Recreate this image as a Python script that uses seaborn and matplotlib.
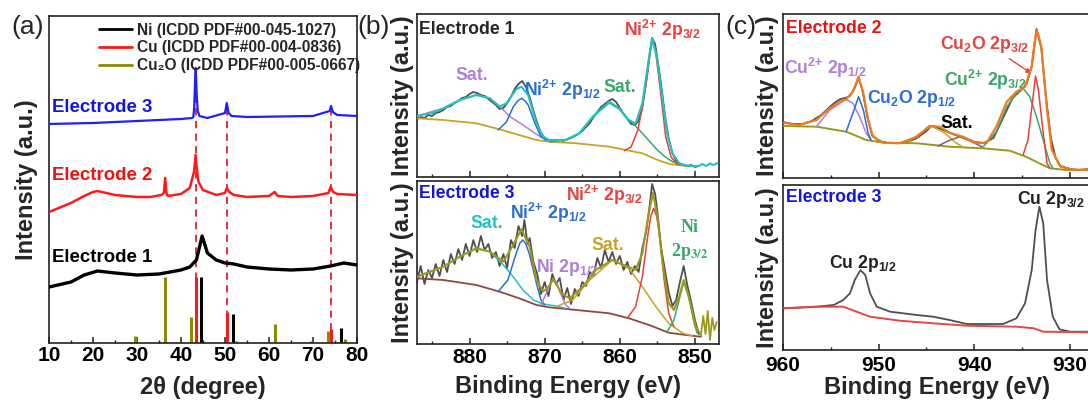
import matplotlib
matplotlib.use("Agg")
import matplotlib.pyplot as plt
import seaborn as sns
from matplotlib.lines import Line2D
from matplotlib.ticker import MultipleLocator

# ============================================================
# (a) XRD patterns
# ============================================================
xrd_e1_x = [10, 15, 18, 21, 25, 30, 35, 40, 42, 43.5, 44.8, 46, 48, 50, 52, 55, 60, 65, 70, 74, 77, 80]
xrd_e1_y = [56, 61, 68, 72, 70, 68, 69, 73, 76, 83, 107, 90, 83, 80, 79, 76, 74, 73, 74, 77, 80, 78]

xrd_e2_x = [10, 15, 18, 20, 21, 25, 30, 33, 35.5, 36.1, 36.4, 36.7, 37, 40, 42, 43.0, 43.3, 43.7, 44, 45,
            48, 50, 50.4, 51, 52, 55, 60, 61.3, 62, 65, 70, 73.5, 74, 74.6, 75.5, 80]
xrd_e2_y = [131, 140, 147, 151, 152, 148, 146, 146, 148, 150, 165, 150, 147, 149, 155, 172, 188, 170, 161, 153,
            148, 150, 155, 151, 148, 146, 147, 151, 147, 146, 147, 150, 156, 151, 149, 148]

xrd_e3_x = [10, 20, 30, 40, 42.5, 42.8, 43.0, 43.2, 43.35, 43.55, 43.8, 44.2, 46, 50.0, 50.4, 50.8, 51.5,
            55, 70, 73.8, 74.1, 74.5, 75.5, 80]
xrd_e3_y = [219, 220, 222, 224, 225, 226, 235, 262, 275, 250, 232, 227, 225, 230, 240, 230, 227,
            226, 227, 232, 237, 231, 228, 227]

dash_x = [43.3, 50.4, 74.1]
dash_top = [270, 240, 237]

ref_ni_x = [44.5, 51.8, 76.4]
ref_ni_h = [66, 29, 15]
ref_cu_x = [43.3, 50.4, 74.1]
ref_cu_h = [66, 31, 14]
ref_cu2o_x = [29.6, 36.4, 42.3, 52.4, 61.4, 69.6, 73.5, 77.3]
ref_cu2o_h = [7, 66, 26, 2, 19, 2, 12, 4]

ref_labels = ['Ni (ICDD PDF#00-045-1027)', 'Cu (ICDD PDF#00-004-0836)', 'Cu₂O (ICDD PDF#00-005-0667)']

# ============================================================
# (b) Ni 2p XPS, Electrode 1
# ============================================================
bt_raw_x = [887, 886.5, 886, 885.5, 885, 884.5, 884, 883.5, 883, 882.5, 882, 881.5, 881, 880.5, 880,
            879.5, 879, 878.5, 878, 877.5, 877, 876.5, 876, 875.5, 875, 874.5, 874, 873.5, 873, 872.5,
            872, 871.5, 871, 870.5, 870, 869.5, 869, 868.5, 868, 867.5, 867, 866.5, 866, 865.5, 865,
            864.5, 864, 863.5, 863, 862.5, 862, 861.5, 861, 860.5, 860, 859.5, 859, 858.5, 858, 857.5,
            857, 856.5, 856, 855.7, 855.3, 855, 854.5, 854, 853.5, 853, 852.5, 852, 851.5, 851, 850.5,
            850, 849.5]
bt_raw_y = [58, 60, 59, 62, 61, 64, 65, 67, 70, 71, 74, 76, 79, 80, 83,
            85, 84, 82, 81, 78, 75, 72, 68, 69, 74, 80, 88, 93, 96, 90,
            80, 66, 54, 44, 39, 36, 35, 36, 37, 36, 38, 39, 41, 43, 46,
            50, 54, 60, 65, 70, 73, 76, 78, 75, 69, 63, 58, 53, 52, 56,
            70, 95, 125, 139, 133, 118, 92, 62, 38, 24, 16, 13, 12, 11, 12,
            10, 11]
bt_env_x = [887, 885, 883.5, 881.3, 879.1, 877.3, 876.0, 875.1, 873.8, 873.1, 872.2, 871.1, 870.2, 869.4,
            867.2, 865.4, 863.6, 861.4, 860.1, 858.8, 857.9, 857.0, 856.3, 855.7, 855.0, 854.3, 853.7,
            853.0, 852.1, 850.8, 849.5, 849, 848.5, 848, 847.5, 847]
bt_env_y = [61, 64, 68.7, 77, 82, 78.7, 70.3, 73.7, 87.7, 90.3, 82, 53.7, 40.3, 37,
            37, 43.7, 60.3, 75.3, 68.7, 57, 53.7, 73.7, 110.3, 139, 117, 77, 43.7,
            23.7, 13.7, 11, 11, 13, 11, 13.5, 12, 14]
bt_bg_x = [887, 883.5, 879.1, 876.0, 873.4, 871.1, 869.4, 865.8, 861.4, 859.2, 857.0, 855.2, 853.4, 851.2, 850.5]
bt_bg_y = [58.7, 57, 53.7, 47.7, 42, 37, 35.3, 33.7, 30.3, 27, 23.7, 17.7, 13, 11, 10.8]
bt_sat1_x = [887, 883.5, 881.3, 879.1, 877.3, 876.0, 874.6, 872.9, 871.1, 869.8, 869.2]
bt_sat1_y = [61, 68.7, 77, 82, 78.7, 70.5, 60.3, 52, 42.7, 37, 35.4]
bt_p12_x = [876.2, 875.1, 874.2, 873.6, 873.1, 872.6, 872.2, 871.3, 870.5, 869.8]
bt_p12_y = [47, 55, 70, 76, 78.7, 76, 72, 53.7, 40.3, 37]
bt_sat2_x = [869.4, 867.2, 865.4, 863.6, 861.4, 860.1, 858.8, 857.9, 857.0, 856.0, 855.0, 854.0, 853.0, 851.6, 851.0]
bt_sat2_y = [35.5, 37, 43.7, 60.3, 74, 68, 57, 51, 43.7, 35.3, 27, 20.3, 15.3, 12, 11.2]
bt_p32_x = [859.4, 858.5, 857.6, 857.0, 856.3, 855.9, 855.6, 855.2, 854.5, 853.9, 853.2, 852.5, 852.0]
bt_p32_y = [26.3, 30, 47, 70, 103.7, 128, 137, 123.7, 80, 40.3, 20.3, 13.7, 12]

# ============================================================
# (b) Ni 2p XPS, Electrode 3
# ============================================================
bb_raw_x = [887.0, 886.5, 886.0, 885.5, 885.0, 884.5, 884.0, 883.5, 883.0, 882.5, 882.0, 881.5, 881.0,
            880.5, 880.0, 879.5, 879.0, 878.5, 878.0, 877.5, 877.0, 876.5, 876.0, 875.5, 875.0, 874.5,
            874.0, 873.5, 873.0, 872.7, 872.3, 872.0, 871.5, 871.0, 870.5, 870.0, 869.5, 869.0, 868.5,
            868.0, 867.5, 867.0, 866.5, 866.0, 865.5, 865.0, 864.5, 864.0, 863.5, 863.0, 862.5, 862.0,
            861.5, 861.0, 860.5, 860.0, 859.5, 859.0, 858.5, 858.0, 857.5, 857.0, 856.5, 856.0, 855.7,
            855.3, 855.0, 854.5, 854.0, 853.5, 853.0, 852.5, 852.0, 851.5, 851.0, 850.5, 850.0, 849.5]
bb_raw_y = [62, 78, 60, 74, 66, 80, 68, 84, 72, 90, 80, 95, 84,
            100, 88, 104, 92, 108, 94, 100, 86, 92, 78, 90, 76, 104,
            96, 118, 108, 124, 100, 106, 82, 70, 50, 62, 48, 70, 60,
            66, 44, 56, 40, 55, 48, 62, 58, 72, 68, 86, 76, 94,
            82, 92, 80, 88, 74, 82, 70, 78, 72, 96, 112, 140, 160,
            150, 132, 96, 74, 52, 38, 44, 62, 78, 58, 42, 24, 10]
bb_env_x = [887, 883.5, 881.3, 879.1, 877.3, 875.5, 874.2, 873.1, 872.0, 871.1, 870.2, 869.4, 868.9, 868.3,
            867.8, 866.7, 864.9, 863.2, 861.0, 859.2, 857.9, 857.0, 856.3, 855.6, 855.0, 854.3, 853.5,
            852.8, 852.1, 851.5, 850.8, 849.9, 849.2]
bb_env_y = [67.3, 77.3, 87.3, 95.7, 92.3, 82.3, 99, 114.7, 97.3, 64, 52.3, 58, 64.7, 58,
            50.7, 45.7, 57.3, 74, 84, 78, 74, 90.7, 124, 151.3, 127.3, 80.7, 40.7,
            34, 47.3, 64, 47.3, 17.3, 9]
bb_tail_x = [849.2, 848.9, 848.6, 848.3, 848.0, 847.7, 847.4, 847.1]
bb_tail_y = [9, 28, 10, 33, 4, 26, 14, 22]
bb_bg_x = [887, 883.5, 879.1, 876.0, 873.4, 871.1, 869.4, 865.8, 861.4, 858.8, 856.1, 853.5, 851.2, 849.2]
bb_bg_y = [65.7, 64, 59, 52.3, 45.7, 39, 36.7, 34, 30.7, 25.7, 19, 11.3, 9, 7.3]
bb_sat1_x = [887, 883.5, 881.3, 879.1, 877.3, 875.5, 874.2, 872.9, 871.5, 870.2, 868.5, 867.2]
bb_sat1_y = [67.3, 77.3, 87.3, 95.7, 92.3, 79, 67.3, 54, 44, 40, 38, 35.7]
bb_p12_x = [876.2, 874.9, 873.8, 873.3, 872.9, 872.5, 872.0, 871.1, 870.5, 870.0]
bb_p12_y = [52.3, 64, 90.7, 101, 104, 100, 89, 60.7, 44, 39]
bb_ni12_x = [870.5, 869.6, 869.2, 868.8, 868.4, 868.0, 867.2, 866.7]
bb_ni12_y = [39, 54, 61, 64, 61, 52.3, 39, 35.7]
bb_sat2_x = [868.5, 866.3, 864.0, 861.0, 858.8, 857.0, 855.2, 853.5, 851.6, 850.3]
bb_sat2_y = [37.3, 44, 64, 84, 75.7, 57.3, 37.3, 20.7, 10.7, 8]
bb_p32_x = [859.0, 857.9, 857.0, 856.3, 855.9, 855.5, 855.1, 854.8, 854.1, 853.5, 852.8]
bb_p32_y = [25.7, 37.3, 67.3, 107.3, 127, 135.7, 128, 114, 64, 30.7, 17.3]
bb_ni32_x = [853.7, 852.8, 852.1, 851.5, 850.8, 850.1, 849.7]
bb_ni32_y = [12.3, 24, 44, 62.3, 45.7, 20.7, 10.7]

# ============================================================
# (c) Cu 2p XPS, Electrode 2
# ============================================================
ct_raw_x = [960, 959, 958, 957, 956, 955, 954.5, 954, 953.5, 953, 952.5, 952.1, 951.7, 951.2, 950.7, 950,
            949, 948, 947, 946, 945, 944.5, 944, 943, 942, 941, 940, 939, 938, 937, 936, 935, 934.5,
            934, 933.5, 933, 932.5, 932, 931.5, 931, 930, 929, 928]
ct_raw_y = [56, 54, 54, 57, 63, 72, 76, 79, 80, 82, 90, 100, 88, 62, 43, 37,
            35, 35, 36, 40, 47, 52, 51, 47, 43, 40, 36, 35, 40, 60, 80, 89, 95,
            112, 149, 130, 80, 40, 20, 12, 9, 8, 9]
ct_env_x = [960, 958.3, 956.5, 955.1, 954.1, 953.4, 952.7, 952.1, 951.6, 951.1, 950.6, 949.5, 947.8, 946.0,
            944.7, 943.6, 942.6, 941.2, 939.8, 938.7, 937.7, 936.6, 935.6, 934.7, 934.0, 933.7, 933.5,
            933.3, 933.0, 932.4, 931.9, 931.0, 929.6, 928.0]
ct_env_y = [55.3, 53, 58, 69.7, 76.3, 78.7, 86.3, 101.3, 84.7, 58, 41.3, 35.3, 34.7, 41.3,
            52, 51.3, 45.3, 41.3, 34.7, 35.3, 51.3, 76.3, 86.3, 91.3, 111.3, 135, 147.3,
            143, 131.3, 68, 28, 11.3, 8, 8.7]
ct_bg_x = [960, 956.5, 953.4, 951.3, 949.5, 946.0, 942.6, 939.1, 936.3, 934.6, 933.2, 932.1, 930.4, 928.0]
ct_bg_y = [52, 51.3, 46.3, 38, 35.3, 34.7, 31.3, 29.7, 27.3, 21.3, 14.7, 9.7, 8, 8]
ct_cu2p12_x = [956.5, 955.1, 953.4, 952.7, 952.0, 951.3, 950.8]
ct_cu2p12_y = [51.5, 68, 78.7, 74.7, 61.3, 44.7, 38]
ct_cu2o12_x = [953.4, 952.7, 952.1, 951.6, 951.1, 950.8]
ct_cu2o12_y = [46.3, 64.7, 81.3, 68, 44.7, 38]
ct_sata_x = [946.9, 945.9, 944.5, 943.1, 941.9, 941.0]
ct_sata_y = [36.3, 43, 52, 45, 35, 30]
ct_satb_x = [943.8, 942.7, 941.5, 940.3, 939.2]
ct_satb_y = [32, 37.3, 41.3, 36.3, 31.3]
ct_cu2p32_x = [939.1, 937.7, 936.6, 935.6, 934.9, 934.2, 933.5, 932.8, 932.1, 931.8]
ct_cu2p32_y = [31, 46.3, 71.3, 84.7, 89.7, 81.3, 61.3, 38, 14.7, 9.7]
ct_cu2o32_x = [934.9, 934.4, 933.9, 933.6, 933.3, 932.8, 932.4, 932.1]
ct_cu2o32_y = [23, 38, 78, 102, 88, 44.7, 14.7, 9.7]

# ============================================================
# (c) Cu 2p XPS, Electrode 3
# ============================================================
cb_raw_x = [960, 958, 956.5, 954.7, 953.7, 953.0, 952.5, 951.9, 951.4, 950.9, 950.2, 948.8, 946.0, 944.3,
            942.6, 940.8, 939.1, 937.0, 935.6, 934.7, 934.0, 933.6, 933.2, 932.8, 932.4, 931.8, 931.1,
            930.0, 928.0]
cb_raw_y = [41.7, 42.5, 43.3, 45, 50, 56.7, 70, 80, 75, 56.7, 43.3, 38.3, 35, 33.3,
            30, 26, 26, 26, 31.7, 46.7, 80, 120, 143.3, 126.7, 70, 33.3, 20.7,
            18.3, 18.3]
cb_bg_x = [960, 956.5, 953.7, 952.3, 950.9, 947.8, 944.3, 940.8, 935.6, 933.8, 932.8, 928.0]
cb_bg_y = [41.7, 43.3, 43.3, 38.3, 33.3, 29.3, 26.7, 24.3, 23.3, 21.7, 18.3, 17.7]

# ============================================================
# style
# ============================================================
sns.set_theme(style="ticks")
plt.rcParams['font.family'] = ['Liberation Sans', 'DejaVu Sans']
plt.rcParams['font.weight'] = 'bold'
plt.rcParams['axes.labelweight'] = 'bold'
plt.rcParams['mathtext.fontset'] = 'custom'
plt.rcParams['mathtext.rm'] = 'Liberation Sans:bold'
plt.rcParams['mathtext.bf'] = 'Liberation Sans:bold'
plt.rcParams['mathtext.it'] = 'Liberation Sans:bold'
plt.rcParams['mathtext.default'] = 'bf'

GRAY = '#4f4f4f'
RED = '#e8413e'
BLUE = '#2a6ed4'
PURPLE = '#b07fd8'
GREEN = '#38a86a'
CYAN = '#1fc3c3'
GOLD = '#c9a227'
OLIVE = '#99991c'
BROWN = '#8c4a3c'
ORANGE = '#f07a1e'
MAUVE = '#8c5a72'
E_RED = '#ee1111'
E_BLUE = '#1515e0'

# superscript charge written as an ordinary symbol (no binary-operator gap)
NI2 = 'Ni$^{2{+}}$'
CU2 = 'Cu$^{2{+}}$'

W, H = 1088, 400
fig = plt.figure(figsize=(W / 100, H / 100), dpi=100)


def px_axes(left, top, right, bottom):
    return fig.add_axes([left / W, 1 - bottom / H, (right - left) / W, (bottom - top) / H])


def draw(ax, xs, ys, color, lw=1.1, z=2):
    sns.lineplot(x=xs, y=ys, ax=ax, color=color, linewidth=lw, estimator=None,
                 sort=False, zorder=z, legend=False)


def frame(ax, major, minor, labels=True, pad=3):
    for s in ax.spines.values():
        s.set_color('#222222')
        s.set_linewidth(1.2)
    ax.set_yticks([])
    ax.xaxis.set_major_locator(MultipleLocator(major))
    ax.xaxis.set_minor_locator(MultipleLocator(minor))
    ax.tick_params(axis='x', which='major', direction='in', length=4.5, width=1.1,
                   labelsize=15, pad=pad, colors='#222222', labelcolor='black')
    ax.tick_params(axis='x', which='minor', direction='in', length=2.5, width=1.0, colors='#222222')
    if not labels:
        ax.set_xticklabels([])
    ax.set_xlabel('')
    ax.set_ylabel('Intensity (a.u.)', fontsize=17, labelpad=2)


# ---------------- (a) ----------------
ax_a = px_axes(49, 16, 357, 343)
ax_a.vlines(dash_x, 0, dash_top, colors='#e8202a', linestyles=(0, (4, 3)), lw=1.3, zorder=1)
draw(ax_a, xrd_e1_x, xrd_e1_y, 'black', lw=2.4, z=3)
draw(ax_a, xrd_e2_x, xrd_e2_y, '#ff1a1a', lw=1.8, z=3)
draw(ax_a, xrd_e3_x, xrd_e3_y, '#1f1fff', lw=1.6, z=3)
ax_a.vlines(ref_cu2o_x, 0, ref_cu2o_h, colors='#8b8b00', lw=2.2, zorder=2)
ax_a.vlines(ref_cu_x, 0, ref_cu_h, colors='#ff1a1a', lw=2.2, zorder=2)
ax_a.vlines(ref_ni_x, 0, ref_ni_h, colors='black', lw=2.2, zorder=2)
ax_a.set_xlim(10, 80)
ax_a.set_ylim(0, 327)
frame(ax_a, 10, 5, pad=2)
ax_a.set_ylabel('Intensity (a.u.)', fontsize=17, labelpad=8)
ax_a.set_xlabel('2θ (degree)', fontsize=17, labelpad=8)
ax_a.text(10.6, 236, 'Electrode 3', color=E_BLUE, fontsize=13.4, va='center')
ax_a.text(10.6, 168, 'Electrode 2', color=E_RED, fontsize=13.4, va='center')
ax_a.text(10.6, 85, 'Electrode 1', color='black', fontsize=13.4, va='center')
handles = [Line2D([], [], color='black', lw=2),
           Line2D([], [], color='#ff1a1a', lw=2),
           Line2D([], [], color='#8b8b00', lw=2)]
ax_a.legend(handles, ref_labels,
            loc='upper left', bbox_to_anchor=(0.162, 0.98), frameon=False, borderpad=0,
            borderaxespad=0, handlelength=2.15, handletextpad=0.3, labelspacing=0.18,
            prop={'size': 11.2, 'weight': 'bold'})

# ---------------- (b) top ----------------
ax_b1 = px_axes(417, 14, 719, 177)
draw(ax_b1, bt_raw_x, bt_raw_y, GRAY, lw=1.3, z=2)
draw(ax_b1, bt_bg_x, bt_bg_y, GOLD, lw=1.3, z=3)
draw(ax_b1, bt_sat1_x, bt_sat1_y, PURPLE, z=3)
draw(ax_b1, bt_p12_x, bt_p12_y, BLUE, z=3)
draw(ax_b1, bt_sat2_x, bt_sat2_y, GREEN, z=3)
draw(ax_b1, bt_p32_x, bt_p32_y, RED, z=3)
draw(ax_b1, bt_env_x, bt_env_y, CYAN, lw=1.5, z=4)
ax_b1.set_xlim(887, 846.8)
ax_b1.set_ylim(0, 163)
frame(ax_b1, 10, 5, labels=False)
ax_b1.text(0.008, 0.96, 'Electrode 1', transform=ax_b1.transAxes, fontsize=12.7, va='top')
ax_b1.text(879.7, 102, 'Sat.', color=PURPLE, fontsize=12.7, ha='center', va='center')
ax_b1.text(867.6, 87, NI2 + ' 2p$_{1/2}$', color=BLUE, fontsize=12.7, ha='center', va='center')
ax_b1.text(860.0, 89, 'Sat.', color=GREEN, fontsize=12.7, ha='center', va='center')
ax_b1.text(854.3, 147, NI2 + ' 2p$_{3/2}$', color=RED, fontsize=12.7, ha='center', va='center')

# ---------------- (b) bottom ----------------
ax_b2 = px_axes(417, 181, 719, 344)
draw(ax_b2, bb_raw_x, bb_raw_y, GRAY, lw=1.3, z=2)
draw(ax_b2, bb_bg_x, bb_bg_y, BROWN, lw=1.3, z=3)
draw(ax_b2, bb_sat1_x, bb_sat1_y, CYAN, z=3)
draw(ax_b2, bb_p12_x, bb_p12_y, BLUE, z=3)
draw(ax_b2, bb_ni12_x, bb_ni12_y, PURPLE, z=3)
draw(ax_b2, bb_sat2_x, bb_sat2_y, GOLD, z=3)
draw(ax_b2, bb_p32_x, bb_p32_y, RED, z=3)
draw(ax_b2, bb_ni32_x, bb_ni32_y, GREEN, z=3)
draw(ax_b2, bb_env_x, bb_env_y, '#9c9a1a', lw=1.5, z=4)
draw(ax_b2, bb_tail_x, bb_tail_y, '#9c9a1a', lw=1.3, z=4)
ax_b2.set_xlim(887, 846.8)
ax_b2.set_ylim(0, 163)
frame(ax_b2, 10, 5, pad=3)
ax_b2.set_xlabel('Binding Energy (eV)', fontsize=17, labelpad=6)
ax_b2.text(0.008, 0.975, 'Electrode 3', color=E_BLUE, transform=ax_b2.transAxes, fontsize=12.7, va='top')
ax_b2.text(877.7, 121, 'Sat.', color=CYAN, fontsize=12.7, ha='center', va='center')
ax_b2.text(869.5, 131, NI2 + ' 2p$_{1/2}$', color=BLUE, fontsize=12.7, ha='center', va='center')
ax_b2.text(867.1, 76, 'Ni 2p$_{1/2}$', color=PURPLE, fontsize=12.7, ha='center', va='center')
ax_b2.text(861.6, 99, 'Sat.', color=GOLD, fontsize=12.7, ha='center', va='center')
ax_b2.text(862.0, 149, NI2 + ' 2p$_{3/2}$', color=RED, fontsize=12.7, ha='center', va='center')
ax_b2.text(850.7, 116, 'Ni', color=GREEN, fontsize=13, ha='center', va='center',
           family='Liberation Serif')
ax_b2.text(850.7, 93, '2p$_{3/2}$', color=GREEN, fontsize=13, ha='center', va='center',
           family='Liberation Serif', math_fontfamily='stix')

# ---------------- (c) top ----------------
ax_c1 = px_axes(783, 14, 1092, 178)
draw(ax_c1, ct_raw_x, ct_raw_y, GRAY, lw=1.3, z=2)
draw(ax_c1, ct_bg_x, ct_bg_y, OLIVE, lw=1.4, z=3)
draw(ax_c1, ct_cu2p12_x, ct_cu2p12_y, PURPLE, z=3)
draw(ax_c1, ct_cu2o12_x, ct_cu2o12_y, BLUE, z=3)
draw(ax_c1, ct_sata_x, ct_sata_y, GOLD, z=3)
draw(ax_c1, ct_satb_x, ct_satb_y, MAUVE, z=3)
draw(ax_c1, ct_cu2p32_x, ct_cu2p32_y, GREEN, z=3)
draw(ax_c1, ct_cu2o32_x, ct_cu2o32_y, RED, z=3)
draw(ax_c1, ct_env_x, ct_env_y, ORANGE, lw=1.6, z=4)
ax_c1.set_xlim(960, 927.7)
ax_c1.set_ylim(0, 164)
frame(ax_c1, 10, 5, labels=False)
ax_c1.set_ylabel('Intensity (a.u.)', fontsize=17, labelpad=3)
ax_c1.text(0.01, 0.965, 'Electrode 2', color=E_RED, transform=ax_c1.transAxes, fontsize=12.7, va='top')
ax_c1.text(955.6, 110, CU2 + ' 2p$_{1/2}$', color=PURPLE, fontsize=12.7, ha='center', va='center')
ax_c1.text(946.6, 80, 'Cu$_2$O 2p$_{1/2}$', color=BLUE, fontsize=12.7, ha='center', va='center')
ax_c1.text(941.8, 55, 'Sat.', color='black', fontsize=12.7, ha='center', va='center')
ax_c1.text(938.9, 134, 'Cu$_2$O 2p$_{3/2}$', color=RED, fontsize=12.7, ha='center', va='center')
ax_c1.text(938.9, 98, CU2 + ' 2p$_{3/2}$', color=GREEN, fontsize=12.7, ha='center', va='center')
ax_c1.annotate('', xy=(933.8, 103), xytext=(936.6, 121),
               arrowprops=dict(arrowstyle='-|>', color=RED, lw=1.0, mutation_scale=7))

# ---------------- (c) bottom ----------------
ax_c2 = px_axes(783, 185, 1092, 350)
draw(ax_c2, cb_raw_x, cb_raw_y, GRAY, lw=1.3, z=2)
draw(ax_c2, cb_bg_x, cb_bg_y, '#e64646', lw=1.4, z=3)
ax_c2.set_xlim(960, 927.7)
ax_c2.set_ylim(0, 165)
frame(ax_c2, 10, 5, pad=4)
ax_c2.set_ylabel('Intensity (a.u.)', fontsize=17, labelpad=3)
ax_c2.set_xlabel('Binding Energy (eV)', fontsize=17, labelpad=1)
ax_c2.text(0.01, 0.975, 'Electrode 3', color=E_BLUE, transform=ax_c2.transAxes, fontsize=12.7, va='top')
ax_c2.text(951.6, 87, 'Cu 2p$_{1/2}$', color='#222222', fontsize=12.7, ha='center', va='center')
ax_c2.text(932.0, 150, 'Cu 2p$_{3/2}$', color='#222222', fontsize=12.7, ha='center', va='center')

# panel letters
for lab, xp in [('(a)', 28), ('(b)', 374), ('(c)', 741)]:
    fig.text(xp / W, 1 - 27 / H, lab, fontsize=19, fontweight='normal', ha='center', va='center')

fig.savefig('out.png', dpi=100)
